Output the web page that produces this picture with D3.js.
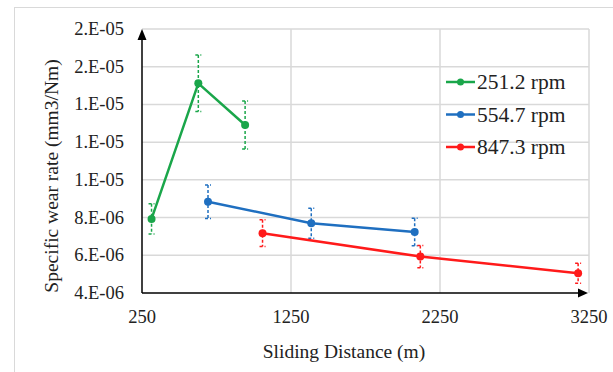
<!DOCTYPE html>
<html>
<head>
<meta charset="utf-8">
<script src="https://cdn.jsdelivr.net/npm/d3@7"></script>
<style>
  body { margin: 0; background: #fff; }
  text { font-family: "Liberation Serif", "Times New Roman", serif; fill: #222; }
</style>
</head>
<body>
<script>
// Specific wear rate vs sliding distance, three speeds
var seriesNames = ['251.2 rpm', '554.7 rpm', '847.3 rpm'];
var seriesColors = ['#1aa64a', '#1f6fc0', '#ff1a1a'];

var distGreen = [314, 628, 942];
var distBlue = [693, 1386, 2080];
var distRed = [1059, 2118, 3177];

var rateGreen = [7.93e-6, 1.512e-5, 1.291e-5];
var rateBlue = [8.84e-6, 7.70e-6, 7.24e-6];
var rateRed = [7.17e-6, 5.93e-6, 5.05e-6];

var errGreen = [0.80e-6, 1.50e-6, 1.27e-6];
var errBlue = [0.89e-6, 0.80e-6, 0.73e-6];
var errRed = [0.71e-6, 0.59e-6, 0.53e-6];

var xTicks = [250, 1250, 2250, 3250];
var yTicks = [4e-6, 6e-6, 8e-6, 1.0e-5, 1.2e-5, 1.4e-5, 1.6e-5, 1.8e-5];
var yTickLabels = ['4.E-06', '6.E-06', '8.E-06', '1.E-05', '1.E-05', '1.E-05', '2.E-05', '2.E-05'];

var w = 613;
var h = 372;

var x = d3.scaleLinear().domain([250, 3250]).range([142, 589]);
var y = d3.scaleLinear().domain([4e-6, 1.8e-5]).range([293, 29]);

var svg = d3.select('body').append('svg').attr('width', w).attr('height', h);

// chart frame
svg.append('rect')
  .attr('x', 14.5).attr('y', 7.5)
  .attr('width', 640).attr('height', 400)
  .attr('fill', '#fff')
  .attr('stroke', '#d9d9d9');

// gridlines
svg.append('g').selectAll('line').data(yTicks.slice(1)).enter().append('line')
  .attr('x1', x(250)).attr('x2', x(3250))
  .attr('y1', function(d) { return y(d); })
  .attr('y2', function(d) { return y(d); })
  .attr('stroke', '#d9d9d9').attr('stroke-width', 1.5);

svg.append('g').selectAll('line').data(xTicks.slice(1)).enter().append('line')
  .attr('x1', function(d) { return x(d); })
  .attr('x2', function(d) { return x(d); })
  .attr('y1', y(4e-6)).attr('y2', y(1.8e-5))
  .attr('stroke', '#d9d9d9').attr('stroke-width', 1.5);

// axes with arrowheads
svg.append('line')
  .attr('x1', x(250)).attr('x2', x(250))
  .attr('y1', y(4e-6)).attr('y2', 38)
  .attr('stroke', '#000').attr('stroke-width', 1.5);
svg.append('path')
  .attr('d', 'M' + (x(250) - 4.5) + ',40 L' + x(250) + ',29 L' + (x(250) + 4.5) + ',40 Z')
  .attr('fill', '#000');

svg.append('line')
  .attr('x1', x(250)).attr('x2', 580)
  .attr('y1', y(4e-6)).attr('y2', y(4e-6))
  .attr('stroke', '#000').attr('stroke-width', 1.5);
svg.append('path')
  .attr('d', 'M578,' + (y(4e-6) - 4.5) + ' L588,' + y(4e-6) + ' L578,' + (y(4e-6) + 4.5) + ' Z')
  .attr('fill', '#000');

// tick labels
svg.append('g').selectAll('text').data(yTicks).enter().append('text')
  .attr('x', 124)
  .attr('y', function(d) { return y(d) + 6; })
  .attr('text-anchor', 'end')
  .attr('font-size', '18.5px')
  .text(function(d, i) { return yTickLabels[i]; });

svg.append('g').selectAll('text').data(xTicks).enter().append('text')
  .attr('x', function(d) { return x(d); })
  .attr('y', 323)
  .attr('text-anchor', 'middle')
  .attr('font-size', '18.5px')
  .text(function(d) { return d; });

// axis titles
svg.append('text')
  .attr('x', 344).attr('y', 358)
  .attr('text-anchor', 'middle')
  .attr('font-size', '19.5px')
  .text('Sliding Distance (m)');

svg.append('text')
  .attr('transform', 'translate(58,176) rotate(-90)')
  .attr('text-anchor', 'middle')
  .attr('font-size', '19.5px')
  .text('Specific wear rate (mm3/Nm)');

// series
var series = [
  { dist: distGreen, rate: rateGreen, err: errGreen },
  { dist: distBlue, rate: rateBlue, err: errBlue },
  { dist: distRed, rate: rateRed, err: errRed }
];

var line = d3.line()
  .x(function(d) { return x(d[0]); })
  .y(function(d) { return y(d[1]); });

series.forEach(function(s, k) {
  var pts = s.dist.map(function(d, i) { return [d, s.rate[i], s.err[i]]; });
  var g = svg.append('g');

  // error bars (dashed, with caps)
  g.selectAll('path.err').data(pts).enter().append('path')
    .attr('class', 'err')
    .attr('d', function(d) {
      var cx = x(d[0]);
      var t = y(d[1] + d[2]);
      var b = y(d[1] - d[2]);
      return 'M' + (cx - 3) + ',' + t + 'H' + (cx + 3) +
             'M' + cx + ',' + t + 'V' + b +
             'M' + (cx - 3) + ',' + b + 'H' + (cx + 3);
    })
    .attr('fill', 'none')
    .attr('stroke', seriesColors[k])
    .attr('stroke-width', 1.5)
    .attr('stroke-dasharray', '3,2');

  g.append('path')
    .attr('d', line(pts))
    .attr('fill', 'none')
    .attr('stroke', seriesColors[k])
    .attr('stroke-width', 2.5);

  g.selectAll('circle').data(pts).enter().append('circle')
    .attr('cx', function(d) { return x(d[0]); })
    .attr('cy', function(d) { return y(d[1]); })
    .attr('r', 4)
    .attr('fill', seriesColors[k]);
});

// legend
var legend = svg.append('g').selectAll('g').data(seriesNames).enter().append('g')
  .attr('transform', function(d, i) { return 'translate(0,' + (82 + i * 32.5) + ')'; });

legend.append('line')
  .attr('x1', 446).attr('x2', 475)
  .attr('y1', 0).attr('y2', 0)
  .attr('stroke', function(d, i) { return seriesColors[i]; })
  .attr('stroke-width', 2.5);

legend.append('circle')
  .attr('cx', 460.5).attr('cy', 0).attr('r', 3.5)
  .attr('fill', function(d, i) { return seriesColors[i]; });

legend.append('text')
  .attr('x', 477).attr('y', 7)
  .attr('font-size', '21.5px')
  .text(function(d) { return d; });
</script>
</body>
</html>
